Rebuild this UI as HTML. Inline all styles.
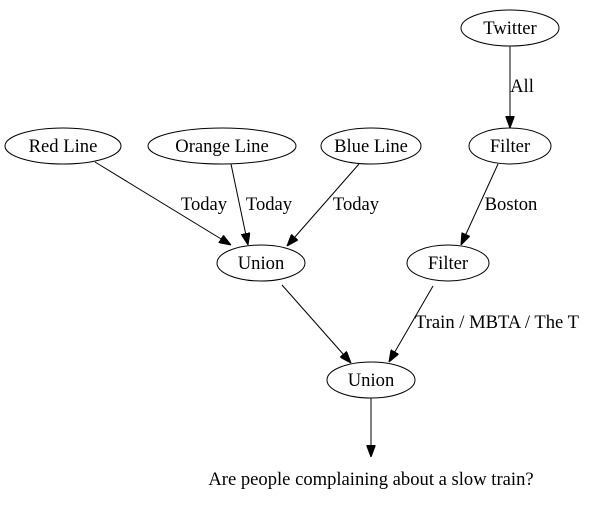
<!DOCTYPE html>
<html><head><meta charset="utf-8"><style>
html,body{margin:0;padding:0;background:#fff;}
svg{display:block;}
text{font-family:"Liberation Serif",serif;font-size:18.6px;fill:#000;}
</style></head><body>
<svg width="591" height="509" viewBox="0 0 591 509" xmlns="http://www.w3.org/2000/svg">
<defs><marker id="a" markerWidth="12" markerHeight="9" refX="12" refY="4.5" orient="auto" markerUnits="userSpaceOnUse"><path d="M0,0 L12,4.5 L0,9 z" fill="#000" stroke="#000"/></marker></defs>
<g fill="none" stroke="#000" stroke-width="1">
<ellipse cx="510" cy="28" rx="49" ry="18"/>
<ellipse cx="510" cy="146" rx="41" ry="18"/>
<ellipse cx="63" cy="146" rx="58" ry="18"/>
<ellipse cx="222" cy="146" rx="74" ry="18"/>
<ellipse cx="371" cy="146" rx="50" ry="18"/>
<ellipse cx="261" cy="263" rx="44" ry="18"/>
<ellipse cx="448" cy="263" rx="41" ry="18"/>
<ellipse cx="371" cy="380" rx="44" ry="18"/>
<line x1="510" y1="46" x2="510" y2="128" marker-end="url(#a)"/>
<line x1="95" y1="162" x2="231" y2="245" marker-end="url(#a)"/>
<line x1="231" y1="164" x2="248" y2="245" marker-end="url(#a)"/>
<line x1="359" y1="164" x2="287" y2="246" marker-end="url(#a)"/>
<line x1="498" y1="164" x2="461" y2="245" marker-end="url(#a)"/>
<line x1="282" y1="285" x2="351" y2="363" marker-end="url(#a)"/>
<line x1="433" y1="286" x2="389" y2="362" marker-end="url(#a)"/>
<line x1="371" y1="398" x2="371" y2="457" marker-end="url(#a)"/>
</g>
<g text-anchor="middle">
<text x="510" y="34">Twitter</text>
<text x="510" y="152">Filter</text>
<text x="63" y="152">Red Line</text>
<text x="222" y="152">Orange Line</text>
<text x="371" y="152">Blue Line</text>
<text x="261" y="269">Union</text>
<text x="448" y="269">Filter</text>
<text x="371" y="386">Union</text>
<text x="522" y="92">All</text>
<text x="204" y="210">Today</text>
<text x="269" y="210">Today</text>
<text x="356" y="210">Today</text>
<text x="511" y="210">Boston</text>
<text x="497" y="328">Train / MBTA / The T</text>
<text x="371" y="485">Are people complaining about a slow train?</text>
</g>
</svg>
</body></html>
